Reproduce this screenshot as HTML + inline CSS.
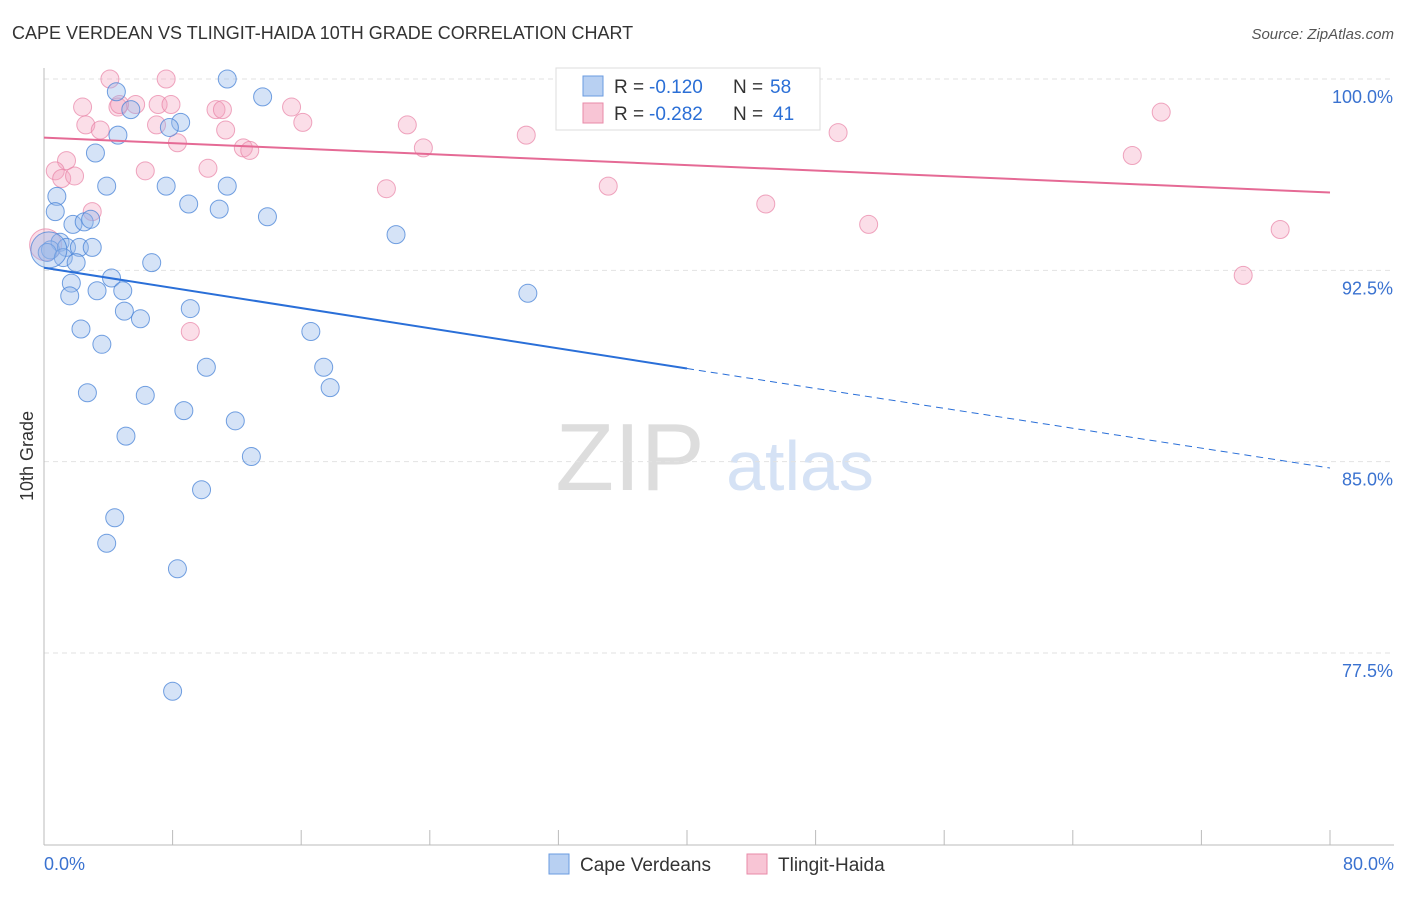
<!DOCTYPE html>
<html><head><meta charset="utf-8"><style>
body{margin:0;background:#fff;font-family:"Liberation Sans",sans-serif;}
svg text{font-family:"Liberation Sans",sans-serif;}
</style></head><body>
<svg width="1406" height="892" xmlns="http://www.w3.org/2000/svg" id="chart">
<text x="12" y="39" font-size="18" fill="#333">CAPE VERDEAN VS TLINGIT-HAIDA 10TH GRADE CORRELATION CHART</text>
<text x="1394" y="39" font-size="15" fill="#555" font-style="italic" text-anchor="end">Source: ZipAtlas.com</text>
<text x="630" y="490" font-size="96" fill="#ddd" font-family="Liberation Serif" text-anchor="middle">ZIP</text>
<text x="800" y="490" font-size="70" fill="#d5e2f5" text-anchor="middle">atlas</text>
<g id="grid"></g><g id="axes"></g><g id="marks"></g>
<text transform="translate(33,456) rotate(-90)" font-size="18" fill="#333" text-anchor="middle">10th Grade</text>
<g>
<rect x="556" y="68" width="264" height="62" fill="#fff" stroke="#ddd"/>
<rect x="583" y="76" width="20" height="20" fill="#b8d0f2" stroke="#6a9be0"/>
<text x="614" y="93" font-size="19" fill="#333">R =</text>
<text x="649" y="93" font-size="19" fill="#2b6fd6">-0.120</text>
<text x="733" y="93" font-size="19" fill="#333">N =</text>
<text x="770" y="93" font-size="19" fill="#2b6fd6">58</text>
<rect x="583" y="103" width="20" height="20" fill="#f8c5d5" stroke="#e88aa8"/>
<text x="614" y="120" font-size="19" fill="#333">R =</text>
<text x="649" y="120" font-size="19" fill="#2b6fd6">-0.282</text>
<text x="733" y="120" font-size="19" fill="#333">N =</text>
<text x="773" y="120" font-size="19" fill="#2b6fd6">41</text>
</g>
<g>
<rect x="549" y="854" width="20" height="20" fill="#b8d0f2" stroke="#6a9be0"/>
<text x="580" y="871" font-size="19" fill="#333">Cape Verdeans</text>
<rect x="747" y="854" width="20" height="20" fill="#f8c5d5" stroke="#e88aa8"/>
<text x="778" y="871" font-size="19" fill="#333">Tlingit-Haida</text>
</g>
</svg>
<script>
const yTicks=[100,92.5,85,77.5];
const yTickLabels=["100.0%","92.5%","85.0%","77.5%"];
const xTickLabels=["0.0%","80.0%"];
const blueX=[11.4,4.5,13.6,5.4,4.6,8.5,7.8,3.2,3.9,7.6,11.4,0.8,9.0,10.9,13.9,0.7,1.8,2.5,2.9,21.9,1.0,0.4,1.4,2.2,3.0,0.2,1.2,2.0,6.7,4.2,1.7,3.3,4.9,1.6,30.1,5.0,9.1,6.0,2.3,16.6,3.6,10.1,17.4,17.8,2.7,6.3,8.7,11.9,5.1,12.9,9.8,4.4,3.9,8.3,8.0,0.3];
const blueY=[100,99.5,99.3,98.8,97.8,98.3,98.1,97.1,95.8,95.8,95.8,95.4,95.1,94.9,94.6,94.8,94.3,94.4,94.5,93.9,93.6,93.3,93.4,93.4,93.4,93.2,93.0,92.8,92.8,92.2,92.0,91.7,91.7,91.5,91.6,90.9,91.0,90.6,90.2,90.1,89.6,88.7,88.7,87.9,87.7,87.6,87.0,86.6,86.0,85.2,83.9,82.8,81.8,80.8,76.0,93.3];
const blueR=[9,9,9,9,9,9,9,9,9,9,9,9,9,9,9,9,9,9,9,9,9,9,9,9,9,9,9,9,9,9,9,9,9,9,9,9,9,9,9,9,9,9,9,9,9,9,9,9,9,9,9,9,9,9,9,18];
const pinkX=[4.1,7.6,36.6,2.4,4.6,5.7,7.1,7.9,10.7,11.1,15.4,16.1,2.6,3.5,7.0,11.3,8.3,12.4,12.8,22.6,23.6,30.0,49.4,69.5,67.7,1.4,0.7,1.1,1.9,6.3,10.2,21.3,35.1,44.9,3.0,51.3,76.9,74.6,9.1,0.1,4.7];
const pinkY=[100,100,100,98.9,98.9,99.0,99.0,99.0,98.8,98.8,98.9,98.3,98.2,98.0,98.2,98.0,97.5,97.3,97.2,98.2,97.3,97.8,97.9,98.7,97.0,96.8,96.4,96.1,96.2,96.4,96.5,95.7,95.8,95.1,94.8,94.3,94.1,92.3,90.1,93.5,99.0];
const pinkR=[9,9,9,9,9,9,9,9,9,9,9,9,9,9,9,9,9,9,9,9,9,9,9,9,9,9,9,9,9,9,9,9,9,9,9,9,9,9,9,16,9];
const blueTrend=[92.6,88.65,84.75];
const pinkTrend=[97.7,95.55];
const NS="http://www.w3.org/2000/svg";
const X=v=>44+v*16.075;
const Y=v=>79+(100-v)*25.51;
function mk(tag,attrs,parent){const e=document.createElementNS(NS,tag);for(const k in attrs)e.setAttribute(k,attrs[k]);parent.appendChild(e);return e;}
const grid=document.getElementById('grid'),axes=document.getElementById('axes'),marks=document.getElementById('marks');
yTicks.forEach((t,i)=>{
 const l=mk('line',{x1:44,x2:1394,y1:Y(t),y2:Y(t),stroke:'#e2e2e2','stroke-dasharray':'5,4'},grid);
 
 
 const tx=mk('text',{x:1393,y:Y(t)+24,'font-size':18,fill:'#3a72d0','text-anchor':'end'},axes);
 tx.textContent=yTickLabels[i];
 
 
});
const ya=mk('line',{x1:44,x2:44,y1:68,y2:845,stroke:'#bbb'},axes);


const xa=mk('line',{x1:44,x2:1394,y1:845,y2:845,stroke:'#bbb'},axes);


for(let i=0;i<=10;i++){
 const t=mk('line',{x1:X(i*8),x2:X(i*8),y1:830,y2:845,stroke:'#bbb'},axes);
 
 
}
[[0,'start',44],[80,'end',1394]].forEach((d,i)=>{
 const tx=mk('text',{x:d[2],y:870,'font-size':18,fill:'#3a72d0','text-anchor':d[1]},axes);
 tx.textContent=xTickLabels[i];
 
 
});
pinkX.forEach((v,i)=>{
 const c=mk('circle',{cx:X(v),cy:Y(pinkY[i]),r:pinkR[i],fill:'rgba(244,160,190,0.35)',stroke:'rgba(232,130,165,0.7)','stroke-width':1},marks);
 
 
});
blueX.forEach((v,i)=>{
 const c=mk('circle',{cx:X(v),cy:Y(blueY[i]),r:blueR[i],fill:'rgba(150,185,235,0.4)',stroke:'rgba(70,130,215,0.75)','stroke-width':1},marks);
 
 
});
const bl=mk('line',{x1:X(0),y1:Y(blueTrend[0]),x2:X(40),y2:Y(blueTrend[1]),stroke:'#2a6fd8','stroke-width':2},marks);


const bd=mk('line',{x1:X(40),y1:Y(blueTrend[1]),x2:X(80),y2:Y(blueTrend[2]),stroke:'#2a6fd8','stroke-width':1,'stroke-dasharray':'7,5'},marks);


const pl=mk('line',{x1:X(0),y1:Y(pinkTrend[0]),x2:X(80),y2:Y(pinkTrend[1]),stroke:'#e56a95','stroke-width':2},marks);


</script>
</body></html>
